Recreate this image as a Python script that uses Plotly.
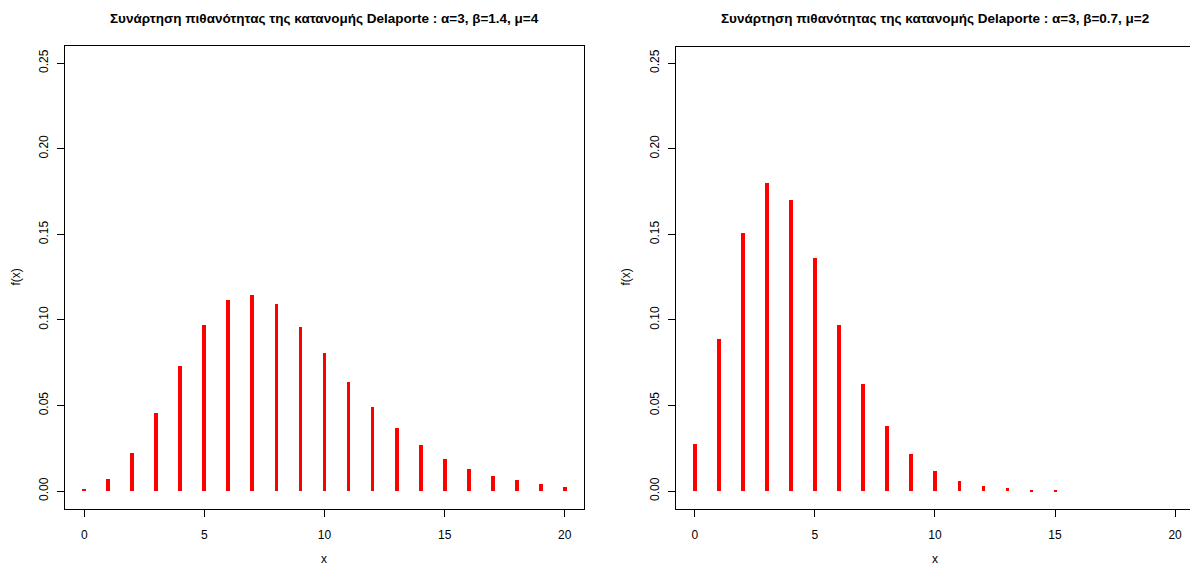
import plotly.graph_objects as go

# ---- data ----
x_left = list(range(0, 21))
f_left = [0.0013, 0.0072, 0.0222, 0.0454, 0.0731, 0.0970, 0.1117, 0.1148, 0.1091,
          0.0960, 0.0806, 0.0638, 0.0489, 0.0366, 0.0267, 0.0186, 0.0128, 0.0089,
          0.0064, 0.0040, 0.0024]
x_right = list(range(0, 16))
f_right = [0.0274, 0.0887, 0.1507, 0.1797, 0.1698, 0.1360, 0.0968, 0.0624, 0.0381,
           0.0215, 0.0118, 0.0061, 0.0030, 0.0017, 0.0008, 0.0004]

title_left = "Συνάρτηση πιθανότητας της κατανομής Delaporte : α=3, β=1.4, μ=4"
title_right = "Συνάρτηση πιθανότητας της κατανομής Delaporte : α=3, β=0.7, μ=2"
x_ticks = [0, 5, 10, 15, 20]
y_ticks = [0.00, 0.05, 0.10, 0.15, 0.20, 0.25]
y_ticklabels = ["0.00", "0.05", "0.10", "0.15", "0.20", "0.25"]

FONT = "Liberation Sans, Arial, sans-serif"
W, H = 1190, 566

fig = go.Figure()
fig.add_trace(go.Bar(x=x_left, y=f_left, width=0.16, marker=dict(color="#ff0000", line=dict(width=0)),
                     xaxis="x", yaxis="y", showlegend=False))
fig.add_trace(go.Bar(x=x_right, y=f_right, width=0.16, marker=dict(color="#ff0000", line=dict(width=0)),
                     xaxis="x2", yaxis="y2", showlegend=False))

ybot, ytop = 1 - 509 / H, 1 - 46 / H
axis_common = dict(showgrid=False, zeroline=False, showline=True, linecolor="black", linewidth=1,
                   ticks="outside", ticklen=7, tickwidth=1, tickcolor="black",
                   tickfont=dict(family=FONT, size=12, color="black"))

fig.update_layout(
    width=W, height=H, margin=dict(l=0, r=0, t=0, b=0),
    paper_bgcolor="white", plot_bgcolor="white", bargap=0,
    xaxis=dict(domain=[65 / W, 584 / W], range=[-0.8, 20.8], tickvals=x_ticks,
               anchor="y", mirror=True, ticklabelstandoff=8, **axis_common),
    yaxis=dict(domain=[ybot, ytop], range=[-0.0105, 0.26], tickvals=y_ticks, ticktext=y_ticklabels,
               tickangle=-90, anchor="x", mirror=True, ticklabelstandoff=4, **axis_common),
    xaxis2=dict(domain=[675.5 / W, 1.0], range=[-0.8, 20.62], tickvals=x_ticks,
                anchor="y2", ticklabelstandoff=8, **axis_common),
    yaxis2=dict(domain=[ybot, ytop], range=[-0.0105, 0.26], tickvals=y_ticks, ticktext=y_ticklabels,
                tickangle=-90, anchor="x2", ticklabelstandoff=4, **axis_common),
)

# top border of right panel (right edge is cut off by the image)
fig.add_shape(type="line", xref="x2 domain", yref="paper", x0=0, x1=1, y0=1 - 46.5 / H, y1=1 - 46.5 / H,
              line=dict(color="black", width=1))

ann = []
for cx, t in [(324.5, title_left), (934.5, title_right)]:
    ann.append(dict(x=cx / W, y=1 - 18 / H, xref="paper", yref="paper", text="<b>%s</b>" % t,
                    showarrow=False, font=dict(family=FONT, size=13.5, color="black"),
                    xanchor="center", yanchor="middle"))
for cx in [324.5, 934.5]:
    ann.append(dict(x=cx / W, y=1 - 559 / H, xref="paper", yref="paper", text="x",
                    showarrow=False, font=dict(family=FONT, size=12, color="black"),
                    xanchor="center", yanchor="middle"))
for cx in [16, 626]:
    ann.append(dict(x=cx / W, y=1 - 277.5 / H, xref="paper", yref="paper", text="f(x)",
                    showarrow=False, textangle=-90, font=dict(family=FONT, size=12, color="black"),
                    xanchor="center", yanchor="middle"))
fig.update_layout(annotations=ann)

fig.write_html("out.html")
